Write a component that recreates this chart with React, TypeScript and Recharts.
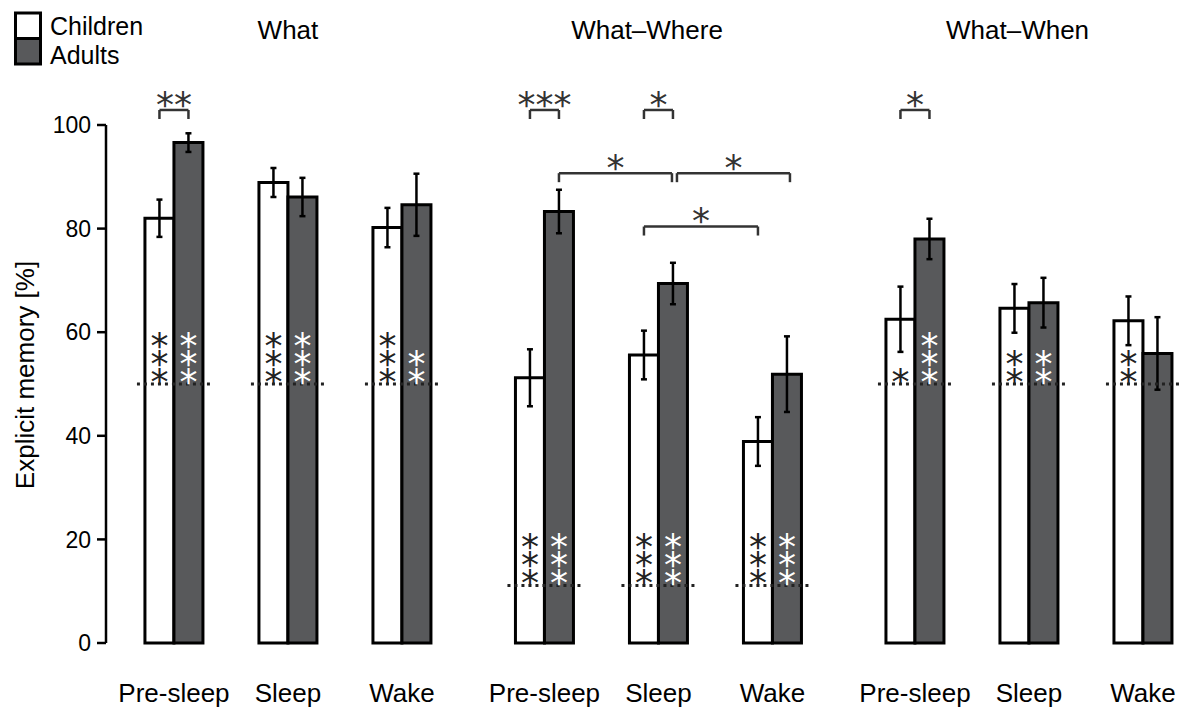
import { Bar, ComposedChart, ErrorBar, Legend, ReferenceDot, ReferenceLine, XAxis, YAxis } from "recharts"

const conditions = ["Pre-sleep", "Sleep", "Wake"]
const panels = ["What", "What–Where", "What–When"]
// x position of each condition group; panels sit a bit further apart than groups
const groupPos = [0, 1, 2, 3.25, 4.25, 5.25, 6.5, 7.5, 8.5]
const titlePos = [1, 4.15, 7.4]
const yTicks = [0, 20, 40, 60, 80, 100]
const seriesNames = ["Children", "Adults"]

const childrenMean = [82.0, 88.9, 80.2, 51.2, 55.6, 38.9, 62.5, 64.6, 62.2]
const childrenSem = [3.6, 2.8, 3.8, 5.5, 4.7, 4.7, 6.3, 4.7, 4.7]
const adultsMean = [96.6, 86.1, 84.6, 83.3, 69.4, 51.9, 78.0, 65.7, 55.9]
const adultsSem = [1.8, 3.7, 6.0, 4.2, 4.0, 7.3, 3.9, 4.8, 7.0]

// chance level per panel
const chanceLevel = [50, 11.1, 50]
// number of asterisks (difference from chance) per group
const childrenStars = [3, 3, 3, 3, 3, 3, 1, 2, 2]
const adultsStars = [3, 3, 2, 3, 3, 3, 3, 2, 0]

// children vs adults within a group
const pairTests = [
  { group: 0, label: "**" },
  { group: 3, label: "***" },
  { group: 4, label: "*" },
  { group: 6, label: "*" },
]
// comparisons between conditions
const crossTests = [
  { from: 3, to: 4, series: "adults", level: 90.7, label: "*" },
  { from: 4, to: 5, series: "adults", level: 90.7, label: "*" },
  { from: 4, to: 5, series: "children", level: 80.4, label: "*" },
]

const data = groupPos.map((x, i) => ({
  x,
  children: childrenMean[i],
  childrenSem: childrenSem[i],
  adults: adultsMean[i],
  adultsSem: adultsSem[i],
}))

const W = 1184
const H = 709
const PLOT_TOP = 125
const PLOT_BOTTOM = 643
const Y_AXIS_X = 106
const X_MIN = -0.596
const X_MAX = 8.86
const PX_PER_X = (W - Y_AXIS_X) / (X_MAX - X_MIN)
const PX_PER_Y = (PLOT_BOTTOM - PLOT_TOP) / 100
const BAR_SIZE = 29
const BAR_OFFSET = BAR_SIZE / 2 / PX_PER_X
const TIP = 9 / PX_PER_Y

const FONT = "'Liberation Sans', Arial, Helvetica, sans-serif"
const STAR_FONT = "'DejaVu Sans', sans-serif"
const STAR_SIZE = 36
const STAR_BASE = STAR_SIZE * 0.6
const DARK = "#58595b"

const ConditionTick = (props: any) => {
  const { x, y, payload } = props
  const i = groupPos.indexOf(payload.value)
  return (
    <text x={x} y={y + 59} textAnchor="middle" fontSize={26} fontFamily={FONT} fill="#000">
      {conditions[i % 3]}
    </text>
  )
}

const TitleTick = (props: any) => {
  const { x, y, payload } = props
  const i = titlePos.indexOf(payload.value)
  return (
    <text x={x} y={y - 86.5} textAnchor="middle" fontSize={26} fontFamily={FONT} fill="#000">
      {panels[i]}
    </text>
  )
}

const YLabel = () => (
  <text
    x={25}
    y={375}
    transform="rotate(-90, 25, 375)"
    textAnchor="middle"
    dominantBaseline="central"
    fontSize={26}
    fontFamily={FONT}
    fill="#000"
  >
    Explicit memory [%]
  </text>
)

const LegendBox = (props: any) => {
  const payload = props.payload || []
  const items = seriesNames
    .map((name) => payload.find((p: any) => p.value === name))
    .filter(Boolean)
  return (
    <svg width={200} height={72} style={{ display: "block" }}>
      {items.map((entry: any, i: number) => (
        <g key={entry.value}>
          <rect x={15.5} y={13 + i * 25.5} width={25} height={25.5} fill={entry.color} stroke="#000" strokeWidth={3} />
          <text x={50} y={35 + i * 29} fontSize={25} fontFamily={FONT} fill="#000">
            {entry.value}
          </text>
        </g>
      ))}
    </svg>
  )
}

// stacked asterisks: one text, each glyph placed with the x/y lists
const starStack = (count: number, color: string) => (props: any) => {
  const { cx, cy } = props
  if (!count) return <g />
  const xs = Array.from({ length: count }, () => cx).join(" ")
  const ys = Array.from({ length: count }, (_, k) => cy - 12 - k * 18 + STAR_BASE).join(" ")
  return (
    <text x={xs} y={ys} textAnchor="middle" fontSize={STAR_SIZE} fontFamily={STAR_FONT} fill={color}>
      {"*".repeat(count)}
    </text>
  )
}

const starRow = (label: string) => (props: any) => {
  const { cx, cy } = props
  return (
    <text x={cx} y={cy - 15 + STAR_BASE} textAnchor="middle" fontSize={STAR_SIZE} fontFamily={STAR_FONT} fill="#333">
      {label}
    </text>
  )
}

const bracket = (key: string, x1: number, x2: number, level: number, label: string) => {
  const line = { stroke: "#333", strokeWidth: 2.5, ifOverflow: "visible" as const }
  return [
    <ReferenceLine key={key + "l"} {...line} segment={[{ x: x1, y: level - TIP }, { x: x1, y: level }]} />,
    <ReferenceLine key={key + "h"} {...line} segment={[{ x: x1, y: level }, { x: x2, y: level }]} />,
    <ReferenceLine key={key + "r"} {...line} segment={[{ x: x2, y: level - TIP }, { x: x2, y: level }]} />,
    <ReferenceDot key={key + "t"} x={(x1 + x2) / 2} y={level} r={0} ifOverflow="visible" shape={starRow(label)} />,
  ]
}

export default function App() {
  const chanceLines = groupPos.map((x, i) => (
    <ReferenceLine
      key={"chance" + i}
      segment={[
        { x: x - 37 / PX_PER_X, y: chanceLevel[Math.floor(i / 3)] },
        { x: x + 40 / PX_PER_X, y: chanceLevel[Math.floor(i / 3)] },
      ]}
      stroke="#222"
      strokeWidth={3}
      strokeDasharray="3 4"
      ifOverflow="visible"
    />
  ))

  const inBarStars = groupPos.flatMap((x, i) => {
    const chance = chanceLevel[Math.floor(i / 3)]
    return [
      <ReferenceDot
        key={"cs" + i}
        x={x - BAR_OFFSET}
        y={chance}
        r={0}
        ifOverflow="visible"
        shape={starStack(childrenStars[i], "#222")}
      />,
      <ReferenceDot
        key={"as" + i}
        x={x + BAR_OFFSET}
        y={chance}
        r={0}
        ifOverflow="visible"
        shape={starStack(adultsStars[i], "#fff")}
      />,
    ]
  })

  const pairBrackets = pairTests.flatMap((t) =>
    bracket("p" + t.group, groupPos[t.group] - BAR_OFFSET, groupPos[t.group] + BAR_OFFSET, 102.9, t.label)
  )

  const crossBrackets = crossTests.flatMap((t, i) => {
    const side = t.series === "children" ? -BAR_OFFSET : BAR_OFFSET
    let x1 = groupPos[t.from] + side
    let x2 = groupPos[t.to] + side
    // leave a small gap where two brackets at the same height meet
    const prev = crossTests[i - 1]
    if (prev && prev.level === t.level && prev.to === t.from) {
      x1 += 4 / PX_PER_X
      x2 += 3 / PX_PER_X
    }
    const next = crossTests[i + 1]
    if (next && next.level === t.level && next.from === t.to) x2 -= 1 / PX_PER_X
    return bracket("c" + i, x1, x2, t.level, t.label)
  })

  return (
    <div style={{ position: "absolute", left: 0, top: 0, background: "#fff" }}>
      <ComposedChart width={W} height={H} data={data} margin={{ top: 0, right: 0, bottom: 0, left: 0 }} barGap={0}>
        <XAxis
          xAxisId="titles"
          orientation="top"
          type="number"
          dataKey="x"
          domain={[X_MIN, X_MAX]}
          ticks={titlePos}
          interval={0}
          height={PLOT_TOP}
          axisLine={false}
          tickLine={false}
          tickSize={0}
          tickMargin={0}
          tick={(p: any) => <TitleTick {...p} />}
        />
        <XAxis
          type="number"
          dataKey="x"
          domain={[X_MIN, X_MAX]}
          ticks={groupPos}
          interval={0}
          height={H - PLOT_BOTTOM}
          axisLine={false}
          tickLine={false}
          tickSize={0}
          tickMargin={0}
          tick={(p: any) => <ConditionTick {...p} />}
        />
        <YAxis
          type="number"
          domain={[0, 100]}
          ticks={yTicks}
          interval={0}
          width={Y_AXIS_X}
          axisLine={{ stroke: "#000", strokeWidth: 2.5 }}
          tickLine={{ stroke: "#000", strokeWidth: 2.5 }}
          tickSize={9}
          tickMargin={6}
          tick={{ fontSize: 23, fill: "#000", fontFamily: FONT }}
          label={{ value: "Explicit memory [%]", content: () => <YLabel /> }}
        />
        <Legend
          layout="vertical"
          align="center"
          verticalAlign="middle"
          content={(p: any) => <LegendBox {...p} />}
          wrapperStyle={{ left: 0, top: 0, width: 200 }}
        />
        <Bar
          dataKey="children"
          name="Children"
          fill="#fff"
          stroke="#000"
          strokeWidth={3}
          barSize={BAR_SIZE}
          isAnimationActive={false}
        >
          <ErrorBar dataKey="childrenSem" direction="y" width={3} stroke="#000" strokeWidth={2.5} />
        </Bar>
        <Bar
          dataKey="adults"
          name="Adults"
          fill={DARK}
          stroke="#000"
          strokeWidth={3}
          barSize={BAR_SIZE}
          isAnimationActive={false}
        >
          <ErrorBar dataKey="adultsSem" direction="y" width={3} stroke="#000" strokeWidth={2.5} />
        </Bar>
        {chanceLines}
        {inBarStars}
        {pairBrackets}
        {crossBrackets}
      </ComposedChart>
    </div>
  )
}
